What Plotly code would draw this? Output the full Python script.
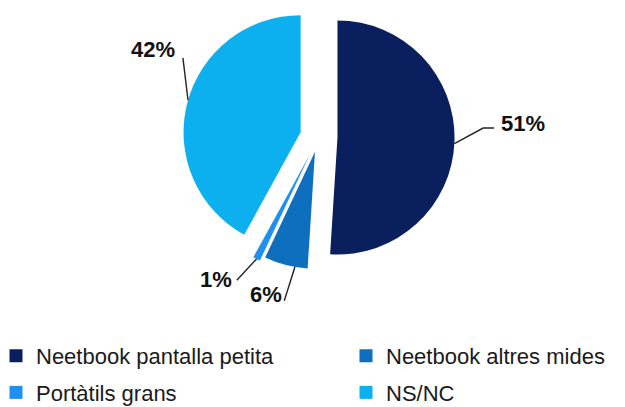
import math
import plotly.graph_objects as go

# ---- data ----
categories = ["Neetbook pantalla petita", "Neetbook altres mides", "Portàtils grans", "NS/NC"]
values = [51, 6, 1, 42]
colors = ["#0a1f5e", "#0f6fbf", "#1e90f0", "#0db0ee"]
pulls = [0.16, 0.13, 0.17, 0.16]
legend_cols = ["legend", "legend2", "legend", "legend2"]

# ---- layout geometry (style) ----
W, H = 625, 407
dom_x = [0.28, 0.74]
dom_y = [0.327, 1.0]
label_rf = [1.75, 1.42, 1.5, 1.6]
label_da = [-5.7, 4.0, 8.9, 13.3]
head_da = [1.0, -4.0, 0.0, 1.3]
# leader-line bend / end points relative to label centre (px)
leader_pts = [[(-40, 5), (-29, 5)], [(18, 6)], [(21, 1)], [(30, 8)]]

fig = go.Figure(go.Pie(
    labels=categories, values=values, sort=False, direction="clockwise",
    rotation=0, pull=pulls, marker=dict(colors=colors, line=dict(width=0)),
    textinfo="none", hoverinfo="label+percent", domain=dict(x=dom_x, y=dom_y),
    showlegend=False,
))

# legend entries (two columns)
for cat, col, lg in zip(categories, colors, legend_cols):
    fig.add_trace(go.Scatter(
        x=[None], y=[None], mode="markers", name=cat, legend=lg, legendgroup=cat,
        marker=dict(symbol="square", size=13, color=col),
        hoverinfo="skip",
    ))

bw = (dom_x[1] - dom_x[0]) * W
bh = (dom_y[1] - dom_y[0]) * H
R = min(bw, bh) / (2 + 2 * max(pulls))
cx = (dom_x[0] + dom_x[1]) / 2 * W
cy = (1 - (dom_y[0] + dom_y[1]) / 2) * H


def px2paper(x, y):
    return x / W, 1 - y / H


total = sum(values)
cum = 0
annotations = []
shapes = []
for i, v in enumerate(values):
    mid = (cum + v / 2) / total * 360
    cum += v
    ha = math.radians(mid + head_da[i])
    hr = R * (1 + pulls[i])
    hx = cx + hr * math.sin(ha)
    hy = cy - hr * math.cos(ha)
    la = math.radians(mid + label_da[i])
    lr = R * label_rf[i]
    lx = cx + lr * math.sin(la)
    ly = cy - lr * math.cos(la)
    px_, py_ = px2paper(lx, ly)
    annotations.append(dict(
        x=px_, y=py_, xref="paper", yref="paper", showarrow=False,
        xanchor="center", yanchor="middle",
        text=f"<b>{round(v / total * 100)}%</b>",
        font=dict(family="Liberation Sans, Arial", size=22, color="#111"),
    ))
    pts = [(hx, hy)] + [(lx + dx, ly + dy) for dx, dy in leader_pts[i]]
    path = ""
    for k, (x, y) in enumerate(pts):
        qx, qy = px2paper(x, y)
        path += ("M" if k == 0 else " L") + f"{qx:.5f},{qy:.5f}"
    shapes.append(dict(type="path", path=path, xref="paper", yref="paper",
                       line=dict(color="#222", width=1.4)))

leg_font = dict(family="Liberation Sans, Arial", size=22, color="#1a1a1a")
fig.update_layout(
    width=W, height=H, margin=dict(l=0, r=0, t=0, b=0, autoexpand=False),
    paper_bgcolor="white", plot_bgcolor="white",
    xaxis=dict(visible=False), yaxis=dict(visible=False),
    annotations=annotations, shapes=shapes,
    showlegend=True,
    legend=dict(x=-0.0064, xanchor="left", y=0.177, yanchor="top", font=leg_font,
                tracegroupgap=5, bgcolor="rgba(0,0,0,0)"),
    legend2=dict(x=0.5536, xanchor="left", y=0.177, yanchor="top", font=leg_font,
                 tracegroupgap=5, bgcolor="rgba(0,0,0,0)"),
)

fig.write_html("out.html", config={"displayModeBar": False},
               post_script="document.body.style.margin='0';")
